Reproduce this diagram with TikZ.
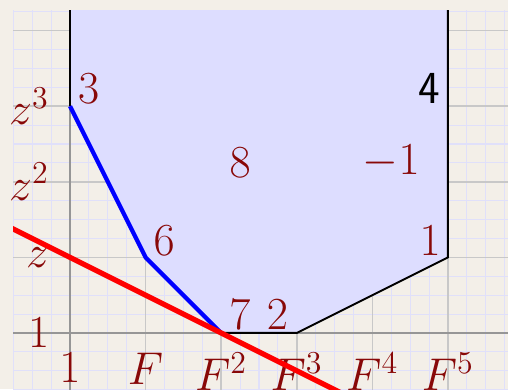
\documentclass[tikz,border=0pt]{standalone}
\usepackage{xcolor}
\definecolor{bgc}{RGB}{243,239,232}
\definecolor{fillc}{RGB}{221,221,255}
\definecolor{finec}{RGB}{224,224,250}
\definecolor{coarsec}{RGB}{200,200,200}
\definecolor{axisc}{RGB}{150,150,150}
\definecolor{labc}{RGB}{136,8,8}
\begin{document}
\begin{tikzpicture}[x=1cm,y=1cm,
  lbl/.style={text=labc,font=\fontsize{17.28}{21}\selectfont,inner sep=0pt},
  xlbl/.style={lbl,anchor=north},
  ylbl/.style={lbl,anchor=east},
  edgeline/.style={black,line width=0.75pt,line join=round},
  pathline/.style={blue,line width=1.6pt,line join=round},
  cutline/.style={red,line width=2pt}]
\useasboundingbox (-0.926,-0.741) rectangle (5.794,4.405);
\fill[bgc] (-0.926,-0.741) rectangle (5.794,4.405);
\coordinate (top0) at (0,4.5);
\coordinate (v3) at (0,3);
\coordinate (v6) at (1,1);
\coordinate (v7) at (2,0);
\coordinate (v2) at (3,0);
\coordinate (v1) at (5,1);
\coordinate (top5) at (5,4.5);
\begin{scope}
\clip (-0.754,-0.741) rectangle (5.794,4.27);
\draw[finec,line width=0.4pt] (-1,-1) grid[step=0.25] (6,4.5);
\draw[coarsec,line width=0.6pt] (-1,-1) grid[step=1] (6,4.5);
\draw[axisc,line width=0.6pt] (-1,0) -- (6,0) (0,-1) -- (0,4.5);
\fill[fillc] (top0) -- (v3) -- (v6) -- (v7) -- (v2) -- (v1) -- (top5) -- cycle;
\draw[edgeline] (top0) -- (v3);
\draw[edgeline] (v7) -- (v2) -- (v1) -- (top5);
\draw[pathline] (v3) -- (v6) -- (v7);
\end{scope}
% axis labels
\node[xlbl] (x0) at (0,-0.26) {$1$};
\node[xlbl] (x1) at (1,-0.26) {$F$};
\node[xlbl] (x2) at (2,-0.26) {$F^2$};
\node[xlbl] (x3) at (3,-0.26) {$F^3$};
\node[xlbl] (x4) at (4,-0.26) {$F^4$};
\node[xlbl] (x5) at (5,-0.26) {$F^5$};
\node[ylbl] (y0) at (-0.27,0) {$1$};
\node[ylbl] (y1) at (-0.27,1) {$z$};
\node[ylbl] (y2) at (-0.27,2) {$z^2$};
\node[ylbl] (y3) at (-0.27,3) {$z^3$};
% vertex labels
\node[lbl,anchor=base west] (l3) at ([shift={(0.1,0.04)}]v3) {$3$};
\node[lbl,anchor=base west] (l6) at ([shift={(0.1,0.03)}]v6) {$6$};
\node[lbl,anchor=base west] (l7) at ([shift={(0.1,0.04)}]v7) {$7$};
\node[lbl,anchor=base east] (l2) at ([shift={(-0.11,0.04)}]v2) {$2$};
\node[lbl,anchor=base east] (l1) at ([shift={(-0.09,0.03)}]v1) {$1$};
\node[lbl,anchor=base east,text=black,font=\fontsize{17.28}{21}\sffamily] (l4) at (4.9,3.04) {4};
\node[lbl] (l8) at (2.25,2.25) {$8$};
\node[lbl] (lm1) at (4.25,2.27) {$-1$};
% red line
\coordinate (r0) at (-1,1.5);
\coordinate (r1) at (4,-1);
\begin{scope}
\clip (-0.754,-0.741) rectangle (5.794,4.27);
\draw[cutline] (r0) -- (r1);
\end{scope}
\end{tikzpicture}
\end{document}
